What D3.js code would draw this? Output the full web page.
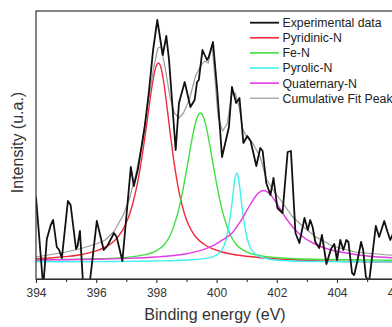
<!DOCTYPE html>
<html><head><meta charset="utf-8">
<script src="https://cdn.jsdelivr.net/npm/d3@7"></script>
<style>html,body{margin:0;padding:0;background:#fff;overflow:hidden}</style>
</head><body><svg id="c" width="392" height="327"></svg>
<script>
// ---------- data (binding energy in eV, intensity in a.u.) ----------
const expE = [394.00,394.24,394.36,394.49,394.57,394.69,394.77,394.86,395.06,395.15,395.33,395.38,395.46,395.57,395.77,396.02,396.25,396.37,396.59,396.68,396.87,397.15,397.25,397.38,397.50,397.61,397.75,397.89,398.03,398.21,398.33,398.42,398.64,398.75,398.94,399.13,399.27,399.35,399.41,399.53,399.68,399.74,399.88,400.02,400.18,400.41,400.51,400.65,400.76,400.89,401.02,401.13,401.32,401.45,401.53,401.65,401.79,401.89,402.02,402.19,402.36,402.47,402.62,402.75,402.92,403.03,403.11,403.19,403.28,403.41,403.50,403.65,403.80,403.91,404.00,404.11,404.21,404.31,404.38,404.50,404.57,404.67,404.80,404.87,404.96,405.07,405.29,405.40,405.57,405.68,405.77,405.90,406.05];
const expI = [82,-8,40,54,59,32,29,21,78,74,30,33,48,-8,-8,58,29,33,46,42,18,112,93,109,131,152,187,229,259,224,243,219,129,176,197,172,179,197,199,229,219,222,237,189,122,152,192,176,181,136,143,138,113,131,128,96,84,101,71,66,127,128,46,36,61,49,59,52,37,31,44,15,30,35,19,39,29,39,37,6,4,17,37,29,2,-2,53,42,58,47,39,48,44];

const pyridinicE = [394.0,394.57,395.07,395.57,396.07,396.57,396.87,397.07,397.22,397.37,397.47,397.57,397.67,397.77,397.87,397.97,398.07,398.17,398.27,398.37,398.47,398.57,398.67,398.77,398.92,399.07,399.27,399.57,400.07,400.57,401.07,402.07,403.07,405.07,407.07];
const pyridinicI = [20.2,21.3,22.6,24.8,28.8,37.2,48.4,61.4,76,95.6,112.4,131.8,153.2,175.4,195.8,210.6,216,209.2,191.4,167.8,143,120.2,100.6,84.4,66.5,54,43.5,35,28,24.5,22.5,20,18.5,17.3,17];

const feE = [394.0,395.0,396.0,397.0,397.5,397.96,398.26,398.46,398.66,398.76,398.86,398.96,399.06,399.16,399.26,399.36,399.46,399.56,399.66,399.76,399.86,399.96,400.06,400.16,400.26,400.46,400.66,400.96,401.46,401.96,402.46,403.46,404.46,405.46,407.0];
const feI = [19.3,19.6,20.2,21.6,23.6,27.6,34.3,43.7,60.6,71.9,85.8,101.8,118.9,136.1,151.3,162,166,162,151.3,136.1,118.9,101.8,85.8,71.9,60.6,43.7,34.3,27.6,23.4,21.5,20.5,19.6,19.2,18.9,18.6];

const pyrolicE = [394.0,396.0,397.0,398.0,398.67,399.17,399.67,399.97,400.17,400.27,400.37,400.47,400.52,400.57,400.62,400.67,400.72,400.77,400.82,400.87,400.97,401.07,401.17,401.37,401.67,402.17,403.17,405.0,407.0];
const pyrolicI = [17.2,17.4,17.6,18,18.5,19.3,20.6,23.6,29,35,47,66,78,91.5,102,106,102,91.5,78,66,47,35,29,23.4,20.3,18.5,17.5,17.2,17];

const quatE = [394.0,395.0,396.0,397.0,398.0,398.5,399.0,399.5,399.9,400.2,400.5,400.8,401.1,401.35,401.56,401.8,402.05,402.3,402.6,402.9,403.3,403.8,404.3,405.0,406.0,407.0];
const quatI = [19,19.3,19.8,20.6,22,23.2,25.3,28.9,33.6,39.1,45.5,58,73.5,84.8,88.5,84,73,61,49.5,41.5,34.5,29,26,23,21,20];

const cumE = [394.0,394.5,395.0,395.5,396.0,396.3,396.6,396.9,397.1,397.3,397.5,397.7,397.9,398.05,398.15,398.3,398.45,398.6,398.75,398.9,399.1,399.3,399.45,399.6,399.72,399.85,399.95,400.05,400.2,400.35,400.5,400.62,400.75,400.87,401.0,401.2,401.45,401.65,401.9,402.2,402.5,402.85,403.3,403.85,404.6,405.7,406.5,407.0];
const cumI = [22,24.5,27,30.5,35,39,48,64,80,102,132,170,210,231,232,210,182,166,161,166,180,203,212,218,216,234,198,162,148,155,184,186,172,150,142,136,122,100,88,76,63,53,42,33,27,24,23,22.5];

const xTicks = [394,396,398,400,402,404,406];
const xMinor = [395,397,399,401,403,405];
const legendLabels = ["Experimental data","Pyridinic-N","Fe-N","Pyrolic-N","Quaternary-N","Cumulative Fit Peak"];
const colors = ["#111111","#f22a3c","#3fe03f","#40f0f0","#e43be4","#9a9a9a"];

// ---------- layout ----------
const W = 392, H = 327;
const L = 36, T = 11, B = 279, R = 36 + 13*30.1;
const font = "'Liberation Sans', Arial, Helvetica, sans-serif";
const svg = d3.select("#c");
const x = d3.scaleLinear().domain([394,407]).range([L,R]);
const y = d3.scaleLinear().domain([0,268]).range([B,T]);

svg.append("defs").append("clipPath").attr("id","clip")
  .append("rect").attr("x",L).attr("y",T).attr("width",R-L).attr("height",B-T);

const g = svg.append("g").attr("clip-path","url(#clip)");
const smooth = d3.line().x(d=>x(d[0])).y(d=>y(d[1])).curve(d3.curveMonotoneX);
const poly = d3.line().x(d=>x(d[0])).y(d=>y(d[1]));
const zip = (a,b)=>a.map((v,i)=>[v,b[i]]);

const series = [
  {e:pyridinicE, i:pyridinicI, c:colors[1], w:1.4, gen:smooth},
  {e:feE, i:feI, c:colors[2], w:1.4, gen:smooth},
  {e:pyrolicE, i:pyrolicI, c:colors[3], w:1.4, gen:smooth},
  {e:quatE, i:quatI, c:colors[4], w:1.4, gen:smooth},
  {e:cumE, i:cumI, c:colors[5], w:1.2, gen:poly},
  {e:expE, i:expI, c:colors[0], w:1.8, gen:poly}
];
series.forEach(s=>{
  g.append("path").attr("d", s.gen(zip(s.e,s.i)))
    .attr("fill","none").attr("stroke",s.c).attr("stroke-width",s.w)
    .attr("stroke-linejoin","round");
});

// frame
svg.append("rect").attr("x",L).attr("y",T).attr("width",R-L).attr("height",B-T)
  .attr("fill","none").attr("stroke","#333").attr("stroke-width",1.2);

// x axis
const ax = svg.append("g").attr("transform",`translate(0,${B})`)
  .call(d3.axisBottom(x).tickValues(xTicks).tickSize(4).tickSizeOuter(0).tickPadding(5).tickFormat(d3.format("d")));
ax.select(".domain").attr("stroke","#333").attr("stroke-width",1.2);
ax.selectAll(".tick line").attr("stroke","#333").attr("stroke-width",1.1);
ax.selectAll(".tick text").attr("font-family",font).attr("font-size",12).attr("fill","#333");
const axm = svg.append("g").attr("transform",`translate(0,${B})`)
  .call(d3.axisBottom(x).tickValues(xMinor).tickSize(3).tickSizeOuter(0).tickFormat(""));
axm.select(".domain").remove();
axm.selectAll(".tick line").attr("stroke","#333").attr("stroke-width",1.1);

// axis titles
svg.append("text").attr("x",215).attr("y",320).attr("text-anchor","middle")
  .attr("font-family",font).attr("font-size",16).attr("fill","#333").text("Binding energy (eV)");
svg.append("text").attr("transform","translate(23,142.5) rotate(-90)").attr("text-anchor","middle")
  .attr("font-family",font).attr("font-size",16).attr("fill","#333").text("Intensity (u.a.)");

// legend
const lg = svg.append("g");
const legW = [1.8,1.6,1.6,1.6,1.6,1.2];
legendLabels.forEach((lab,k)=>{
  const yy = 22.7 + k*15.1;
  lg.append("line").attr("x1",250).attr("x2",279).attr("y1",yy).attr("y2",yy)
    .attr("stroke",colors[k]).attr("stroke-width",legW[k]);
  lg.append("text").attr("x",282.5).attr("y",yy).attr("dy","0.36em")
    .attr("font-family",font).attr("font-size",12.3).attr("fill","#222").text(lab);
});
</script></body></html>
